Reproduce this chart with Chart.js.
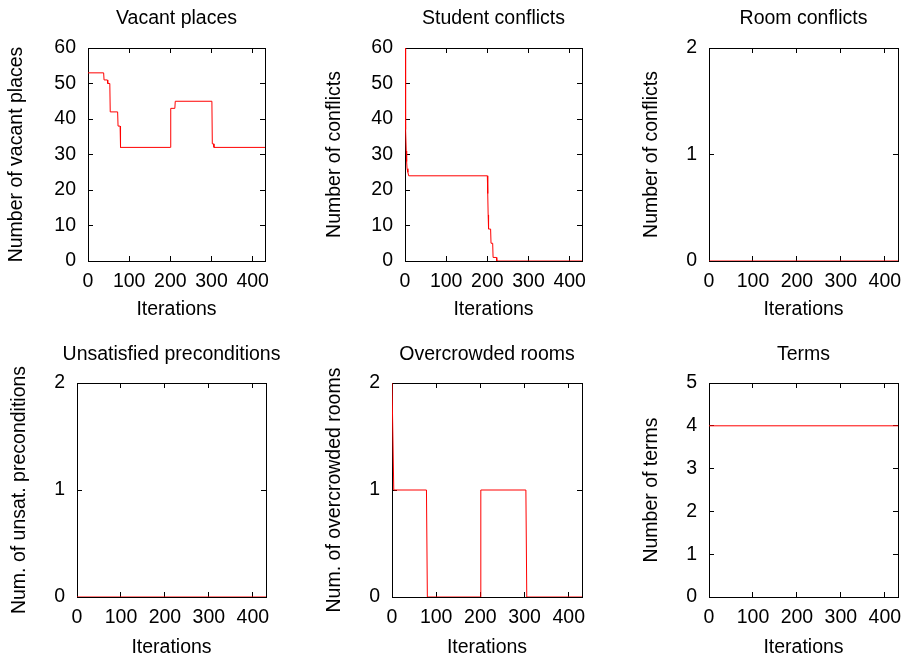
<!DOCTYPE html>
<html><head><meta charset="utf-8">
<script src="https://cdn.jsdelivr.net/npm/chart.js@4/dist/chart.umd.min.js"></script>
<style>
html,body{margin:0;padding:0;background:#fff;overflow:hidden;width:904px;height:657px;position:relative;}
canvas{position:absolute;}
</style></head><body>
<canvas id="c1"></canvas><canvas id="c2"></canvas><canvas id="c3"></canvas>
<canvas id="c4"></canvas><canvas id="c5"></canvas><canvas id="c6"></canvas>
<script>
// ---- data ----
const iterMax = 430;
const xTicks = [0, 100, 200, 300, 400];

const vacantX = [0, 38, 39, 47, 48, 53, 54, 72, 73, 78, 79, 200, 201, 211, 212, 301, 302, 305, 306, 430];
const vacantY = [53, 53, 51, 51, 50, 50, 42, 42, 38, 38, 32, 32, 43, 43, 45, 45, 33, 33, 32, 32];
const vacantTicks = [0, 10, 20, 30, 40, 50, 60];

const studentX = [0, 1, 2, 3, 4, 5, 7, 9, 200, 201, 202, 203, 208, 209, 213, 214, 222, 223, 430];
const studentY = [60, 47, 37, 31, 28, 26, 25, 24, 24, 19, 13, 9, 9, 5, 5, 1, 1, 0, 0];
const studentTicks = [0, 10, 20, 30, 40, 50, 60];

const roomX = [0, 430];
const roomY = [0, 0];
const roomTicks = [0, 1, 2];

const unsatX = [0, 430];
const unsatY = [0, 0];
const unsatTicks = [0, 1, 2];

const crowdX = [0, 4, 78, 80, 200, 201, 303, 305, 430];
const crowdY = [2, 1, 1, 0, 0, 1, 1, 0, 0];
const crowdTicks = [0, 1, 2];

const termsX = [0, 430];
const termsY = [4, 4];
const termsTicks = [0, 1, 2, 3, 4, 5];

// ---- drawing ----
const FONT = {family: "'Liberation Sans', Arial, Helvetica, sans-serif", size: 19.5, weight: 'normal'};
const LH = 19.5 * 1.2;

// box: [originX, originY, plotLeft, plotRight, plotTop, plotBottom] in page pixels
function makePanel(id, box, pads, title, yTitle, xs, ys, yTicks) {
  const [ox, oy, L, R, T, B] = box;
  const W = Math.round(2 * ((L + R) / 2 - ox));   // canvas centred on the plot so the title centres on it
  const H = 335;
  const cv = document.getElementById(id);
  cv.width = W; cv.height = H;
  cv.style.left = ox + 'px'; cv.style.top = oy + 'px';
  cv.style.width = W + 'px'; cv.style.height = H + 'px';
  const yW = L - ox, y2W = W - (R - ox), topH = T - oy, xH = H - (B - oy);
  const pts = xs.map((x, i) => ({x: x, y: ys[i]}));
  const yMin = yTicks[0], yMax = yTicks[yTicks.length - 1];
  const grid = () => ({display: true, drawOnChartArea: false, drawTicks: true, tickLength: -5, color: '#000', lineWidth: 1});
  const border = () => ({display: true, color: '#000', width: 1});
  const setX = s => { s.ticks = xTicks.map(v => ({value: v})); };
  const setY = s => { s.ticks = yTicks.map(v => ({value: v})); };
  new Chart(cv, {
    type: 'line',
    data: {datasets: [{data: pts, borderColor: '#ff0000', borderWidth: 1, pointRadius: 0, fill: false, tension: 0}]},
    options: {
      responsive: false, animation: false, devicePixelRatio: 1,
      layout: {padding: 0},
      plugins: {
        legend: {display: false}, tooltip: {enabled: false},
        title: {display: true, text: title, color: '#000', font: FONT,
                padding: {top: pads.tt, bottom: topH - 1 - pads.tt - LH}}
      },
      scales: {
        x: {type: 'linear', position: 'bottom', min: 0, max: iterMax,
            afterBuildTicks: setX, afterFit: s => { s.height = xH; },
            ticks: {autoSkip: false, maxRotation: 0, padding: 14.3, color: '#000', font: FONT},
            grid: grid(), border: border(),
            title: {display: true, text: 'Iterations', color: '#000', font: FONT, padding: {top: 0, bottom: pads.xt}}},
        x2: {type: 'linear', axis: 'x', position: 'top', min: 0, max: iterMax,
            afterBuildTicks: setX, afterFit: s => { s.height = 1; },
            ticks: {display: false},
            grid: grid(), border: border()},
        y: {type: 'linear', position: 'left', min: yMin, max: yMax,
            afterBuildTicks: setY, afterFit: s => { s.width = yW; },
            ticks: {autoSkip: false, padding: 17, color: '#000', font: FONT},
            grid: grid(), border: border(),
            title: {display: true, text: yTitle, color: '#000', font: FONT, padding: {top: pads.yt, bottom: 0}}},
        y2: {type: 'linear', axis: 'y', position: 'right', min: yMin, max: yMax,
            afterBuildTicks: setY, afterFit: s => { s.width = y2W; },
            ticks: {display: false},
            grid: grid(), border: border()}
      }
    }
  });
}

makePanel('c1', [0, 0, 88, 265, 48, 261], {tt: 7.4, xt: 14.1, yt: 5.3},
  'Vacant places', 'Number of vacant places', vacantX, vacantY, vacantTicks);
makePanel('c2', [300, 0, 405, 582, 48, 261], {tt: 7.4, xt: 14.1, yt: 22.8},
  'Student conflicts', 'Number of conflicts', studentX, studentY, studentTicks);
makePanel('c3', [600, 0, 709, 898, 48, 261], {tt: 7.4, xt: 14.1, yt: 39.5},
  'Room conflicts', 'Number of conflicts', roomX, roomY, roomTicks);
makePanel('c4', [0, 330, 77, 266, 383, 597], {tt: 12.8, xt: 5.8, yt: 8.2},
  'Unsatisfied preconditions', 'Num. of unsat. preconditions', unsatX, unsatY, unsatTicks);
makePanel('c5', [300, 330, 392, 582, 383, 597], {tt: 12.8, xt: 5.8, yt: 22.8},
  'Overcrowded rooms', 'Num. of overcrowded rooms', crowdX, crowdY, crowdTicks);
makePanel('c6', [600, 330, 709, 898, 383, 597], {tt: 12.8, xt: 5.8, yt: 39.5},
  'Terms', 'Number of terms', termsX, termsY, termsTicks);
</script>
</body></html>
